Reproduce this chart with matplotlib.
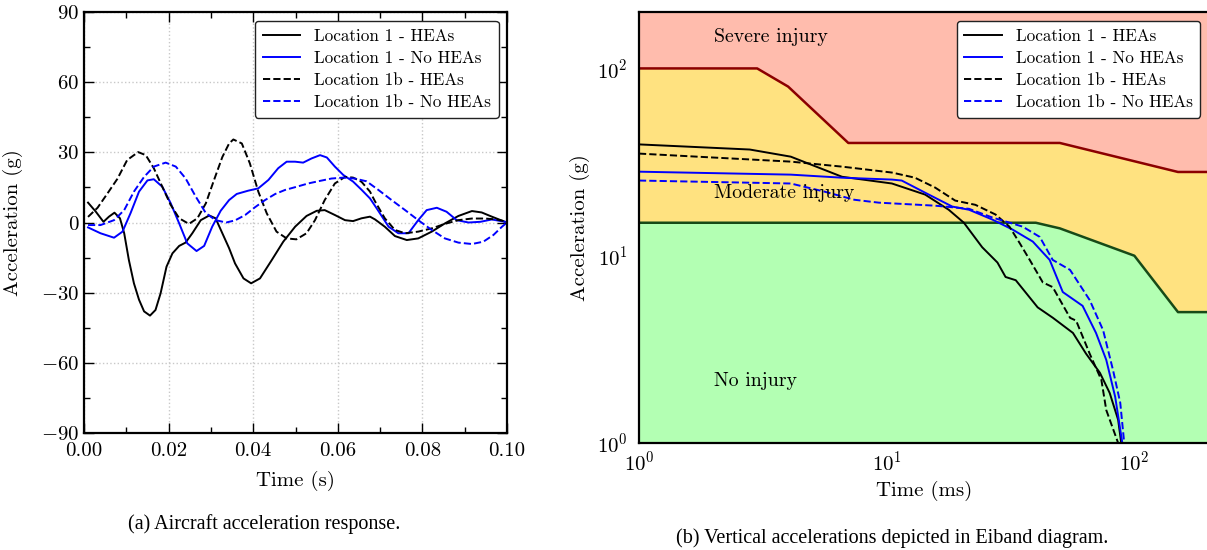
"""Aircraft acceleration response and Eiband diagram, side by side."""

from __future__ import annotations

import matplotlib

matplotlib.use("Agg")
import matplotlib.pyplot as plt
from matplotlib.ticker import MultipleLocator


# (a) acceleration histories, time in s, acceleration in g
T_LOC1_HEA = [0.00095, 0.0028, 0.0046, 0.0059, 0.0072, 0.0085, 0.0095, 0.0106, 0.0118, 0.013,
              0.0142, 0.0156, 0.0169, 0.0181, 0.0195, 0.0209, 0.0225, 0.024, 0.0256, 0.0276,
              0.0296, 0.0311, 0.0327, 0.0343, 0.0357, 0.0377, 0.0395, 0.0416, 0.0444, 0.0471,
              0.0499, 0.0526, 0.055, 0.0569, 0.0593, 0.0617, 0.0636, 0.0656, 0.0676, 0.0688,
              0.0711, 0.0735, 0.0763, 0.079, 0.0822, 0.0853, 0.0885, 0.0917, 0.094, 0.0964,
              0.0995]
A_LOC1_HEA = [8.5, 4.6, 0.3, 2.5, 4.2, 1.8, -4.6, -16.0, -26.0, -33.0,
              -38.0, -39.8, -37.4, -30.3, -18.9, -13.2, -10.0, -8.6, -4.6, 1.0,
              3.0, 1.8, -4.6, -11.0, -17.5, -23.9, -26.0, -23.9, -16.0, -8.2,
              -1.8, 2.8, 5.0, 5.3, 3.2, 1.0, 0.6, 1.8, 2.5, 1.3,
              -1.8, -5.8, -7.5, -6.8, -3.9, -0.4, 2.8, 4.9, 4.3, 2.5,
              0.3]

T_LOC1_NO = [0.00095, 0.0039, 0.0071, 0.0091, 0.011, 0.013, 0.015, 0.0165, 0.0185, 0.0205,
             0.0225, 0.0244, 0.0266, 0.0284, 0.0303, 0.0323, 0.0343, 0.0361, 0.0388, 0.0412,
             0.0436, 0.0459, 0.0479, 0.0499, 0.0518, 0.0538, 0.0558, 0.0574, 0.0593, 0.0613,
             0.0636, 0.0656, 0.0676, 0.0692, 0.072, 0.0743, 0.0767, 0.079, 0.081, 0.0834,
             0.0857, 0.0881, 0.0909, 0.0937, 0.0964, 0.0995]
A_LOC1_NO = [-2.1, -4.6, -6.5, -3.9, 4.0, 13.2, 18.0, 18.5, 15.3, 8.2,
             -0.4, -8.9, -12.2, -10.0, -1.8, 5.0, 9.6, 12.2, 13.6, 14.6,
             18.2, 23.2, 26.0, 26.0, 25.6, 27.4, 28.8, 27.8, 23.9, 20.3,
             17.5, 14.0, 10.3, 6.0, -1.8, -4.6, -4.6, 1.0, 5.3, 6.3,
             4.6, 1.0, 0.0, 0.3, 1.3, 0.3]

T_LOC1B_HEA = [0.00095, 0.0032, 0.0055, 0.0079, 0.0102, 0.0128, 0.0146, 0.0165, 0.0185, 0.0205,
               0.0225, 0.0248, 0.0268, 0.0288, 0.0307, 0.0327, 0.0343, 0.0353, 0.0373, 0.0392,
               0.0412, 0.0432, 0.0455, 0.0479, 0.0502, 0.0526, 0.0546, 0.0569, 0.0593, 0.0617,
               0.0636, 0.0656, 0.0676, 0.0688, 0.0711, 0.0735, 0.0759, 0.079, 0.0822, 0.0853,
               0.0885, 0.0917, 0.0948, 0.0975, 0.1]
A_LOC1B_HEA = [2.4, 6.3, 12.3, 18.7, 26.7, 30.1, 28.8, 23.2, 15.3, 7.5,
               1.8, -0.6, 1.8, 8.2, 18.0, 28.0, 33.8, 35.5, 33.8, 25.3,
               13.2, 3.9, -3.9, -6.8, -7.2, -4.6, 1.0, 9.6, 16.7, 19.5,
               19.2, 17.4, 13.2, 9.0, 1.8, -3.2, -4.6, -3.9, -2.5, -0.6,
               1.0, 1.7, 1.7, 1.3, 0.3]

T_LOC1B_NO = [0.00095, 0.0039, 0.0071, 0.0095, 0.0118, 0.0142, 0.0165, 0.0193, 0.0217, 0.024,
              0.0264, 0.0288, 0.0311, 0.0336, 0.0357, 0.0381, 0.0404, 0.0428, 0.0452, 0.0475,
              0.0503, 0.053, 0.0558, 0.0585, 0.0613, 0.064, 0.0668, 0.0696, 0.0727, 0.0759,
              0.079, 0.0822, 0.0853, 0.0885, 0.0917, 0.0944, 0.0968, 0.0988, 0.1]
A_LOC1B_NO = [-1.1, -1.1, 1.0, 5.3, 13.2, 19.5, 23.9, 25.6, 23.9, 18.9,
              11.1, 4.0, 1.0, 0.0, 0.9, 3.2, 6.5, 9.6, 12.2, 13.9,
              15.3, 16.7, 17.8, 18.8, 19.2, 18.8, 17.6, 13.9, 9.6, 5.3,
              1.0, -3.2, -6.8, -8.6, -9.2, -8.2, -5.3, -1.8, 0.0]

# (b) Eiband injury tolerance boundaries, duration in ms, acceleration in g
SEVERE_T = [1, 3, 4, 7, 50, 150, 200]
SEVERE_G = [100, 100, 80, 40, 40, 28, 28]
MODERATE_T = [1, 40, 50, 100, 150, 200]
MODERATE_G = [15, 15, 14, 10, 5, 5]

# (b) sustained acceleration vs. duration
E_LOC1_HEA_T = [1, 2.8, 4.1, 6.6, 10.5, 14.3, 17.8, 20.5, 24.3, 28, 30.2, 33.2, 40.7,
                46.9, 56.5, 63.8, 72.6, 79.5, 86, 88.5]
E_LOC1_HEA_G = [39.3, 36.9, 33.8, 26.4, 24.3, 21.2, 17.6, 15.0, 11.1, 9.2, 7.7, 7.4, 5.3,
                4.66, 3.87, 3.0, 2.37, 1.85, 1.33, 1.0]
E_LOC1_NO_T = [1, 4.1, 6.6, 10.5, 11.5, 14.3, 18.4, 21.5, 26.7, 32.2, 38.9, 45.5, 51.4,
               61.8, 70, 77, 83.7, 89.4]
E_LOC1_NO_G = [28.1, 27.1, 26.1, 25.5, 25.2, 21.7, 18.3, 17.6, 15.6, 13.8, 11.9, 9.5, 6.4,
               5.4, 3.87, 2.78, 1.76, 1.0]
E_LOC1B_HEA_T = [1, 4.1, 6.6, 10.5, 13, 15.7, 18.9, 22.8, 27.5, 31.3, 34.4, 37.8, 42.7,
                 46.8, 55, 58.2, 66, 73.6, 77, 86]
E_LOC1B_HEA_G = [35.1, 31.8, 29.9, 27.8, 26.1, 23.1, 19.7, 18.7, 16.6, 14.3, 11.7, 9.5, 7.2,
                 6.8, 4.66, 4.5, 3.0, 2.17, 1.5, 1.0]
E_LOC1B_NO_T = [1, 4.1, 5.6, 7.4, 9.3, 15.7, 21.5, 26.7, 35.4, 41.5, 46.8, 55, 66, 74.8,
                82, 87.7, 91]
E_LOC1B_NO_G = [25.2, 24.3, 22.0, 19.9, 19.2, 18.5, 17.8, 16.0, 14.3, 12.6, 9.5, 8.4, 5.8, 4.0,
                2.45, 1.64, 1.0]

LABELS = ["Location 1 - HEAs", "Location 1 - No HEAs", "Location 1b - HEAs", "Location 1b - No HEAs"]
STYLES = [("k", "-"), ("b", "-"), ("k", "--"), ("b", "--")]

FS = 15


def style_ticks(ax):
    ax.tick_params(which="both", direction="in", top=True, right=True, labelsize=FS)
    ax.tick_params(which="major", length=7, width=1.0)
    ax.tick_params(which="minor", length=4, width=1.0)
    ax.tick_params(axis="x", pad=6.5)
    for spine in ax.spines.values():
        spine.set_linewidth(1.6)


def main() -> None:
    plt.rcParams["font.family"] = "serif"
    plt.rcParams["font.serif"] = ["cmr10"]
    plt.rcParams["mathtext.fontset"] = "cm"
    plt.rcParams["axes.formatter.use_mathtext"] = True

    fig = plt.figure(figsize=(12.07, 5.5), dpi=100)

    # (a) time histories
    ax1 = fig.add_axes([0.0696, 0.2127, 0.3505, 0.7655])
    series = [
        (T_LOC1_HEA, A_LOC1_HEA),
        (T_LOC1_NO, A_LOC1_NO),
        (T_LOC1B_HEA, A_LOC1B_HEA),
        (T_LOC1B_NO, A_LOC1B_NO),
    ]
    for (t, a), label, (color, ls) in zip(series, LABELS, STYLES):
        ax1.plot(t, a, color=color, linestyle=ls, linewidth=1.4, label=label)
    ax1.set_xlim(0, 0.1)
    ax1.set_ylim(-90, 90)
    ax1.xaxis.set_major_locator(MultipleLocator(0.02))
    ax1.xaxis.set_minor_locator(MultipleLocator(0.01))
    ax1.yaxis.set_major_locator(MultipleLocator(30))
    ax1.yaxis.set_minor_locator(MultipleLocator(15))
    ax1.xaxis.set_major_formatter(plt.FuncFormatter(lambda v, _: f"{v:.2f}"))
    ax1.yaxis.set_major_formatter(plt.FuncFormatter(lambda v, _: f"${v:.0f}$"))
    ax1.grid(True, which="major", color="#c8c8c8", linestyle=":", linewidth=1.0)
    style_ticks(ax1)
    ax1.set_xlabel("Time (s)", fontsize=FS, labelpad=8)
    ax1.set_ylabel("Acceleration (g)", fontsize=FS)
    ax1.yaxis.set_label_coords(-0.145, 0.5)
    ax1.legend(loc="upper right", fontsize=12.3, fancybox=True, framealpha=1.0,
               edgecolor="#222222", handlelength=2.2, borderpad=0.45, labelspacing=0.4)

    # (b) Eiband diagram
    ax2 = fig.add_axes([0.5294, 0.1945, 0.4722, 0.7836])
    ax2.set_xscale("log")
    ax2.set_yscale("log")
    ax2.fill_between(SEVERE_T, SEVERE_G, 200, color="#ffbcad", linewidth=0, zorder=1)
    ax2.fill_between(SEVERE_T, 1, SEVERE_G, color="#ffe280", linewidth=0, zorder=1)
    ax2.fill_between(MODERATE_T, 1, MODERATE_G, color="#b3ffb3", linewidth=0, zorder=1.5)
    ax2.plot(SEVERE_T, SEVERE_G, color="#8b0000", linewidth=1.8, zorder=2)
    ax2.plot(MODERATE_T, MODERATE_G, color="#174a17", linewidth=1.8, zorder=2)

    eiband = [
        (E_LOC1_HEA_T, E_LOC1_HEA_G),
        (E_LOC1_NO_T, E_LOC1_NO_G),
        (E_LOC1B_HEA_T, E_LOC1B_HEA_G),
        (E_LOC1B_NO_T, E_LOC1B_NO_G),
    ]
    for (t, g), label, (color, ls) in zip(eiband, LABELS, STYLES):
        ax2.plot(t, g, color=color, linestyle=ls, linewidth=1.4, label=label, zorder=3)

    ax2.text(2.0, 148, "Severe injury", fontsize=14.3, va="center", ha="left", zorder=4)
    ax2.text(2.0, 21.5, "Moderate injury", fontsize=14.3, va="center", ha="left", zorder=4)
    ax2.text(2.0, 2.15, "No injury", fontsize=14.3, va="center", ha="left", zorder=4)

    ax2.set_xlim(1, 200)
    ax2.set_ylim(1, 200)
    ax2.tick_params(which="both", length=0, labelsize=FS)
    ax2.tick_params(axis="x", pad=5)
    ax2.tick_params(axis="y", pad=8)
    for spine in ax2.spines.values():
        spine.set_linewidth(1.6)
        spine.set_zorder(5)
    ax2.set_xlabel("Time (ms)", fontsize=FS, labelpad=5)
    ax2.set_ylabel("Acceleration (g)", fontsize=FS, labelpad=5)
    ax2.legend(loc="upper right", fontsize=12.3, fancybox=True, framealpha=1.0,
               edgecolor="#222222", handlelength=2.2, borderpad=0.45, labelspacing=0.4)

    caption_font = {"family": "Liberation Serif", "size": 14.5}
    fig.text(0.2187, 0.047, "(a) Aircraft acceleration response.", ha="center", va="center",
             fontdict=caption_font)
    fig.text(0.739, 0.022, "(b) Vertical accelerations depicted in Eiband diagram.", ha="center",
             va="center", fontdict=caption_font)

    fig.savefig("out.png", dpi=100)
    plt.close(fig)


if __name__ == "__main__":
    main()
